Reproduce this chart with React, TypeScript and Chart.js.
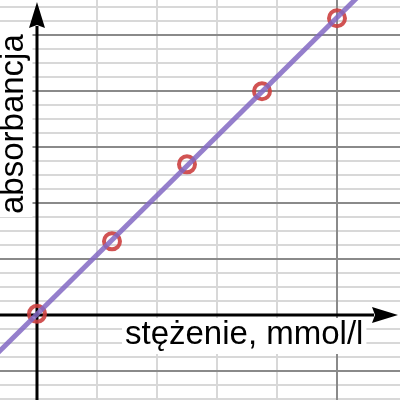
import React, { useEffect, useRef } from "react";
import { Chart, registerables } from "chart.js";

Chart.register(...registerables);

// Data
const concentrations = [0, 0.25, 0.5, 0.75, 1.0];
const absorbances = [0.004, 0.263, 0.538, 0.799, 1.06];
const xTitle = "stężenie, mmol/l";
const yTitle = "absorbancja";

// Axis ranges / grid steps
const xRange = [-0.1233, 1.21];
const yRange = [-0.3036, 1.125];
const xMinorStep = 0.2;
const xMajorStep = 1.0;
const yMinorStep = 0.05;
const yMajorStep = 0.2;

function fit(xs: number[], ys: number[]) {
  const n = xs.length;
  const mx = xs.reduce((a, b) => a + b, 0) / n;
  const my = ys.reduce((a, b) => a + b, 0) / n;
  let sxy = 0, sxx = 0;
  for (let i = 0; i < n; i++) {
    sxy += (xs[i] - mx) * (ys[i] - my);
    sxx += (xs[i] - mx) * (xs[i] - mx);
  }
  const slope = sxy / sxx;
  return { slope, intercept: my - slope * mx };
}

function isMultiple(v: number, step: number) {
  const r = v / step;
  return Math.abs(r - Math.round(r)) < 1e-6;
}

function makeTicks(min: number, max: number, step: number, skipStep?: number) {
  const out: { value: number }[] = [];
  const k0 = Math.ceil(min / step - 1e-9);
  const k1 = Math.floor(max / step + 1e-9);
  for (let k = k0; k <= k1; k++) {
    const v = +(k * step).toFixed(6);
    if (Math.abs(v) < 1e-9) continue; // the axis itself is drawn separately
    if (skipStep && isMultiple(v, skipStep)) continue;
    if (max - v < 0.1 * step) continue; // no line hugging the right/top edge
    out.push({ value: v });
  }
  return out;
}

const FONT = '33px "Liberation Sans", Arial, Helvetica, sans-serif';

const overlayPlugin = {
  id: "overlay",
  beforeDatasetsDraw(chart: any) {
    const ctx = chart.ctx as CanvasRenderingContext2D;
    const xs = chart.scales.x;
    const ys = chart.scales.y;
    const x0 = xs.getPixelForValue(0);
    const y0 = ys.getPixelForValue(0);
    ctx.save();
    ctx.font = FONT;
    ctx.textBaseline = "alphabetic";
    ctx.textAlign = "left";

    // x title
    {
      const m = ctx.measureText(xTitle);
      const bx = 125, by = 344;
      ctx.fillStyle = "#ffffff";
      ctx.fillRect(bx - 3, by - m.actualBoundingBoxAscent - 2, m.width + 6, m.actualBoundingBoxAscent + m.actualBoundingBoxDescent + 5);
      ctx.fillStyle = "#000000";
      ctx.fillText(xTitle, bx, by);
    }
    // y title
    {
      ctx.save();
      ctx.translate(22.5, 214);
      ctx.rotate(-Math.PI / 2);
      const m = ctx.measureText(yTitle);
      ctx.fillStyle = "#ffffff";
      ctx.fillRect(-3, -m.actualBoundingBoxAscent - 3, m.width + 6, m.actualBoundingBoxAscent + m.actualBoundingBoxDescent + 6);
      ctx.fillStyle = "#000000";
      ctx.fillText(yTitle, 0, 0);
      ctx.restore();
    }

    // axes
    ctx.strokeStyle = "#000000";
    ctx.fillStyle = "#000000";
    ctx.lineWidth = 3;
    const W = chart.width, H = chart.height;
    ctx.beginPath();
    ctx.moveTo(0, y0);
    ctx.lineTo(W - 26, y0);
    ctx.moveTo(x0, H);
    ctx.lineTo(x0, 26);
    ctx.stroke();
    // right arrow
    const tipX = W - 2;
    ctx.beginPath();
    ctx.moveTo(tipX, y0);
    ctx.lineTo(tipX - 26, y0 - 8);
    ctx.lineTo(tipX - 23, y0);
    ctx.lineTo(tipX - 26, y0 + 8);
    ctx.closePath();
    ctx.fill();
    // up arrow
    const tipY = 2;
    ctx.beginPath();
    ctx.moveTo(x0, tipY);
    ctx.lineTo(x0 + 8, tipY + 26);
    ctx.lineTo(x0, tipY + 23);
    ctx.lineTo(x0 - 8, tipY + 26);
    ctx.closePath();
    ctx.fill();
    ctx.restore();
  },
};

function gridScale(axis: "x" | "y", range: number[], step: number, skip: number | undefined, color: string, z: number) {
  return {
    type: "linear",
    axis,
    position: axis === "x" ? "bottom" : "left",
    min: range[0],
    max: range[1],
    afterBuildTicks: (s: any) => {
      s.ticks = makeTicks(range[0], range[1], step, skip);
    },
    ticks: { display: false },
    border: { display: false },
    grid: { drawTicks: false, lineWidth: 2, color, z },
  };
}

export default function App() {
  const ref = useRef<HTMLCanvasElement | null>(null);
  useEffect(() => {
    if (!ref.current) return;
    const { slope, intercept } = fit(concentrations, absorbances);
    const lx = [xRange[0] - 0.05, xRange[1] + 0.05];
    const lineData = lx.map((x) => ({ x, y: intercept + slope * x }));
    const pts = concentrations.map((x, i) => ({ x, y: absorbances[i] }));
    const chart = new Chart(ref.current, {
      type: "scatter",
      data: {
        datasets: [
          {
            data: lineData,
            showLine: true,
            borderColor: "rgba(130,105,195,0.85)",
            borderWidth: 5,
            pointRadius: 0,
            clip: false as any,
          },
          {
            data: pts,
            showLine: false,
            pointRadius: 8,
            pointHoverRadius: 8,
            borderWidth: 4,
            pointBorderColor: "rgba(204,64,64,0.9)",
            pointBackgroundColor: "rgba(0,0,0,0)",
            borderColor: "rgba(204,64,64,0.9)",
            backgroundColor: "rgba(0,0,0,0)",
          },
        ],
      },
      options: {
        animation: false,
        responsive: false,
        maintainAspectRatio: false,
        events: [],
        layout: { padding: 0, autoPadding: false },
        plugins: { legend: { display: false }, tooltip: { enabled: false } },
        scales: {
          x: gridScale("x", xRange, xMinorStep, xMajorStep, "#d8d8d8", -3) as any,
          y: gridScale("y", yRange, yMinorStep, yMajorStep, "#d8d8d8", -3) as any,
          xMajor: gridScale("x", xRange, xMajorStep, undefined, "#8a8a8a", -2) as any,
          yMajor: gridScale("y", yRange, yMajorStep, undefined, "#8a8a8a", -2) as any,
        },
      },
      plugins: [overlayPlugin],
    });
    return () => chart.destroy();
  }, []);
  return (
    <div style={{ position: "fixed", left: 0, top: 0, width: 400, height: 400, background: "#fff" }}>
      <canvas ref={ref} width={400} height={400} style={{ width: 400, height: 400, display: "block" }} />
    </div>
  );
}
